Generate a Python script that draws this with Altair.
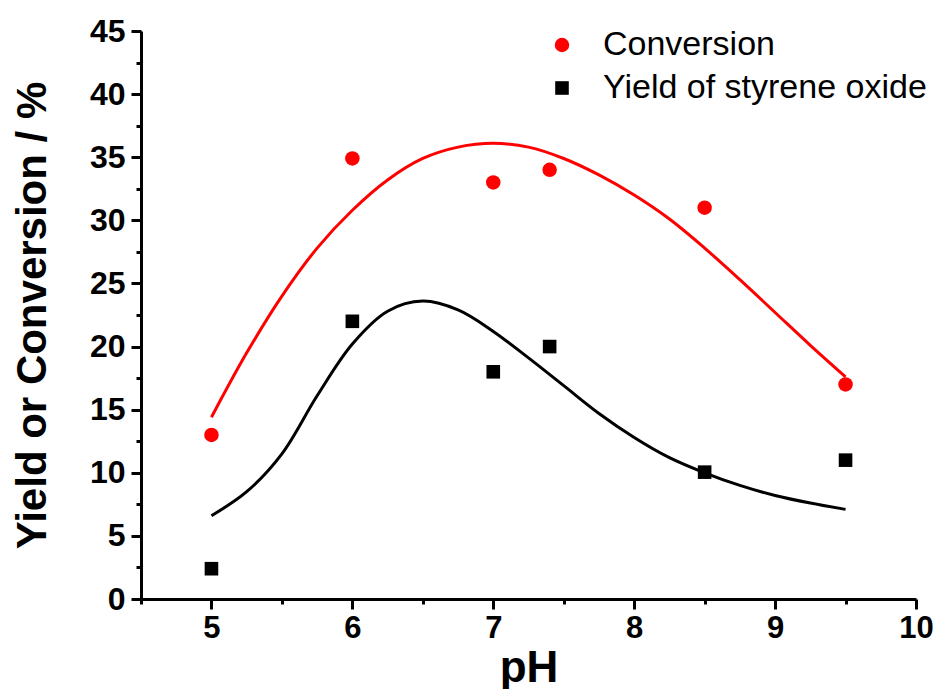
import altair as alt
import pandas as pd

# Measured points
ph = [5.0, 6.0, 7.0, 7.4, 8.5, 9.5]
conversion = [13.0, 34.9, 33.0, 34.0, 31.0, 17.0]
yield_so = [2.4, 22.0, 18.0, 20.0, 10.05, 11.0]

# Fitted curves
curve_ph = [5.0, 5.25, 5.5, 5.75, 6.0, 6.25, 6.5, 6.75, 7.0, 7.25, 7.5,
            7.75, 8.0, 8.25, 8.5, 8.75, 9.0, 9.25, 9.5]
conv_fit = [14.4, 19.5, 24.0, 27.8, 30.8, 33.2, 34.9, 35.8, 36.1, 35.8, 34.9,
            33.6, 32.0, 30.1, 27.8, 25.3, 22.7, 20.1, 17.6]
yield_fit = [6.6, 8.5, 11.5, 16.1, 20.2, 22.8, 23.6, 22.9, 21.2, 19.1, 16.9,
             14.7, 12.8, 11.2, 10.0, 9.0, 8.2, 7.6, 7.1]

series = ["Conversion", "Yield of styrene oxide"]

x_major = [5, 6, 7, 8, 9, 10]
x_minor = [4.5, 5.5, 6.5, 7.5, 8.5, 9.5]
y_major = [0, 5, 10, 15, 20, 25, 30, 35, 40, 45]
y_minor = [2.5, 7.5, 12.5, 17.5, 22.5, 27.5, 32.5, 37.5, 42.5]

pts = pd.DataFrame({
    "pH": ph + ph,
    "value": conversion + yield_so,
    "series": [series[0]] * len(ph) + [series[1]] * len(ph),
})
conv_df = pd.DataFrame({"pH": curve_ph, "value": conv_fit})
yield_df = pd.DataFrame({"pH": curve_ph, "value": yield_fit})

FONT = "Liberation Sans"

x_scale = alt.Scale(domain=[4.5, 10], nice=False, zero=False)
y_scale = alt.Scale(domain=[0, 45], nice=False)

tick_style = dict(grid=False, tickColor="black", tickWidth=3)

x_axis = alt.Axis(
    title="pH", values=x_major, format="d", orient="bottom", tickSize=10,
    domainColor="black", domainWidth=3,
    labelFont=FONT, labelFontSize=31, labelFontWeight="bold", labelColor="black",
    labelPadding=4, labelFlush=False,
    titleFont=FONT, titleFontSize=44, titleFontWeight="bold", titleColor="black",
    titlePadding=3, **tick_style,
)
y_axis = alt.Axis(
    title="Yield or Conversion / %", values=y_major, format="d", orient="left",
    tickSize=10, domainColor="black", domainWidth=3,
    labelFont=FONT, labelFontSize=32, labelFontWeight="bold", labelColor="black",
    labelPadding=6, labelFlush=False,
    titleFont=FONT, titleFontSize=42, titleFontWeight="bold", titleColor="black",
    titlePadding=35, **tick_style,
)
x_axis_minor = alt.Axis(title=None, values=x_minor, labels=False, orient="bottom",
                        tickSize=5, domain=False, **tick_style)
y_axis_minor = alt.Axis(title=None, values=y_minor, labels=False, orient="left",
                        tickSize=5, domain=False, **tick_style)

points = alt.Chart(pts).mark_point(filled=True, opacity=1).encode(
    x=alt.X("pH:Q", scale=x_scale, axis=x_axis),
    y=alt.Y("value:Q", scale=y_scale, axis=y_axis),
    color=alt.Color("series:N", scale=alt.Scale(domain=series, range=["#ff0000", "#000000"]),
                    legend=alt.Legend(
                        title=None, orient="none", legendX=404, legendY=-3,
                        labelFont=FONT, labelFontSize=34, labelColor="black",
                        labelOffset=24, rowPadding=9, symbolSize=200,
                        symbolStrokeWidth=0, labelLimit=0,
                    )),
    shape=alt.Shape("series:N", scale=alt.Scale(domain=series, range=["circle", "square"]),
                    legend=None),
    size=alt.Size("series:N", scale=alt.Scale(domain=series, range=[210, 185]), legend=None),
)

conv_line = alt.Chart(conv_df).mark_line(color="#ff0000", strokeWidth=3,
                                         interpolate="catmull-rom").encode(
    x=alt.X("pH:Q", scale=x_scale, axis=x_axis_minor),
    y=alt.Y("value:Q", scale=y_scale, axis=y_axis_minor))
yield_line = alt.Chart(yield_df).mark_line(color="#000000", strokeWidth=3,
                                           interpolate="catmull-rom").encode(
    x=alt.X("pH:Q", scale=x_scale, axis=None),
    y=alt.Y("value:Q", scale=y_scale, axis=None))

chart = alt.layer(points, conv_line, yield_line).resolve_axis(
    x="independent", y="independent"
).properties(
    width=775, height=568,
    autosize=alt.AutoSizeParams(type="none"),
    padding={"left": 133, "top": 23, "right": 18, "bottom": 90},
).configure_view(stroke=None)

chart.save("out.html", embed_options={"renderer": "svg", "actions": False})
